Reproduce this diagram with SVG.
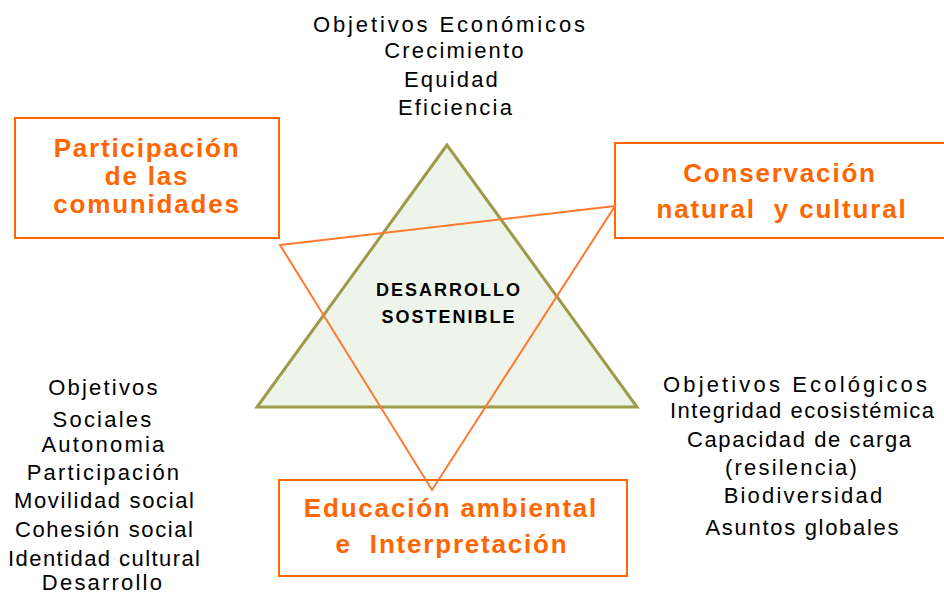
<svg xmlns="http://www.w3.org/2000/svg" width="944" height="594" viewBox="0 0 944 594">
<style>
.box{fill:none;stroke:#FF6600;stroke-width:2}
.ot{font-family:"Liberation Sans",Arial,sans-serif;font-weight:bold;font-size:26px;fill:#FF6600;text-anchor:middle;letter-spacing:1.8px;white-space:pre}
.bt{font-family:"Liberation Sans",Arial,sans-serif;font-size:22px;fill:#000;text-anchor:middle;letter-spacing:2.2px}
.fit{letter-spacing:0}
.ct{font-family:"Liberation Sans",Arial,sans-serif;font-weight:bold;font-size:18px;fill:#000;text-anchor:middle;letter-spacing:2px}
</style>
<rect width="944" height="594" fill="#fff"/>
<g id="triangle-desarrollo">
<polygon points="447,145 257,407 637,407" fill="#EEF4EA" stroke="#9C9C48" stroke-width="3" stroke-linejoin="miter"/>
<text class="ct" x="449" y="296">DESARROLLO</text>
<text class="ct" x="449" y="323">SOSTENIBLE</text>
</g>
<g id="box-participacion">
<rect class="box" x="15" y="118" width="264" height="120"/>
<text class="ot" x="147" y="157">Participación</text>
<text class="ot" x="147" y="185">de las</text>
<text class="ot" x="147" y="213">comunidades</text>
</g>
<g id="box-conservacion">
<rect class="box" x="615" y="143" width="340" height="95"/>
<text class="ot" x="780" y="182">Conservación</text>
<text class="ot" x="782" y="218" xml:space="preserve">natural  y cultural</text>
</g>
<g id="box-educacion">
<rect class="box" x="279" y="480" width="348" height="96"/>
<text class="ot" x="451" y="517">Educación ambiental</text>
<text class="ot" x="452" y="553" xml:space="preserve">e  Interpretación</text>
</g>
<g id="connectors">
<polygon points="280,245 615,206 432,490" fill="none" stroke="#FF7A30" stroke-width="2" stroke-linejoin="miter"/>
</g>
<g id="objetivos-economicos">
<text class="bt fit" x="449" y="32" textLength="272" lengthAdjust="spacing">Objetivos Económicos</text>
<text class="bt" x="455" y="58">Crecimiento</text>
<text class="bt" x="452" y="87">Equidad</text>
<text class="bt" x="456" y="115">Eficiencia</text>
</g>
<g id="objetivos-sociales">
<text class="bt" x="104" y="395">Objetivos</text>
<text class="bt" x="103" y="427">Sociales</text>
<text class="bt" x="104" y="452">Autonomia</text>
<text class="bt" x="104" y="480">Participación</text>
<text class="bt fit" x="104" y="508" textLength="180" lengthAdjust="spacing">Movilidad social</text>
<text class="bt fit" x="104" y="537" textLength="178" lengthAdjust="spacing">Cohesión social</text>
<text class="bt fit" x="104" y="566" textLength="192" lengthAdjust="spacing">Identidad cultural</text>
<text class="bt" x="103" y="590">Desarrollo</text>
</g>
<g id="objetivos-ecologicos">
<text class="bt fit" x="795" y="392" textLength="264" lengthAdjust="spacing">Objetivos Ecológicos</text>
<text class="bt fit" x="802" y="418" textLength="264" lengthAdjust="spacing">Integridad ecosistémica</text>
<text class="bt fit" x="799" y="447" textLength="224" lengthAdjust="spacing">Capacidad de carga</text>
<text class="bt" x="792" y="475">(resilencia)</text>
<text class="bt" x="804" y="503">Biodiversidad</text>
<text class="bt fit" x="802" y="535" textLength="193" lengthAdjust="spacing">Asuntos globales</text>
</g>
</svg>
